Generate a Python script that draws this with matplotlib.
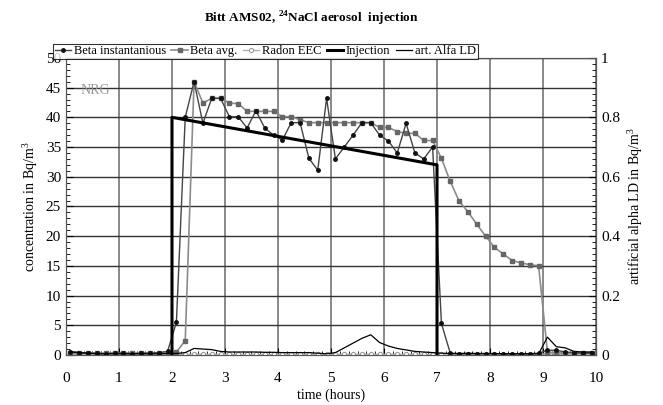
import numpy as np
import matplotlib
matplotlib.use("Agg")
import matplotlib.pyplot as plt
from matplotlib.ticker import MultipleLocator

plt.rcParams['font.family'] = ['Liberation Serif', 'DejaVu Serif']
plt.rcParams['mathtext.fontset'] = 'custom'
plt.rcParams['mathtext.rm'] = 'Liberation Serif'
plt.rcParams['mathtext.bf'] = 'Liberation Serif:bold'

# time of each 10-minute sample, in minutes
minutes = [5, 15, 25, 35, 45, 55, 65, 75, 85, 95,
           105, 115, 125, 135, 145, 155, 165, 175, 185, 195,
           205, 215, 225, 235, 245, 255, 265, 275, 285, 295,
           305, 315, 325, 335, 345, 355, 365, 375, 385, 395,
           405, 415, 425, 435, 445, 455, 465, 475, 485, 495,
           505, 515, 525, 535, 545, 555, 565, 575, 585, 595]

beta_inst = [0.5, 0.4, 0.3, 0.3, 0.2, 0.3, 0.3, 0.2, 0.3, 0.3,
             0.4, 0.6, 5.5, 40.0, 46.0, 39.0, 43.2, 43.2, 40.1, 40.1,
             38.2, 41.1, 38.2, 37.0, 36.2, 39.1, 39.1, 33.1, 31.1, 43.2,
             33.0, 35.0, 37.0, 39.1, 39.1, 37.0, 36.0, 34.0, 39.0, 34.0,
             33.0, 35.0, 5.3, 0.3, 0.2, 0.2, 0.2, 0.2, 0.2, 0.2,
             0.2, 0.2, 0.2, 0.3, 0.8, 0.8, 0.5, 0.4, 0.3, 0.3]

beta_avg = [0.3, 0.3, 0.3, 0.3, 0.3, 0.3, 0.3, 0.3, 0.3, 0.3,
            0.3, 0.3, 0.5, 2.4, 46.0, 42.4, 43.2, 43.2, 42.4, 42.3,
            41.0, 41.0, 41.0, 41.0, 40.1, 40.1, 39.6, 39.1, 39.1, 39.1,
            39.1, 39.1, 39.1, 39.1, 39.1, 38.3, 38.3, 37.6, 37.3, 37.3,
            36.1, 36.1, 33.1, 29.2, 25.9, 24.1, 22.0, 20.0, 18.1, 17.0,
            15.9, 15.5, 15.2, 15.0, 0.5, 0.4, 0.3, 0.3, 0.3, 0.3]

radon_eec = [0.2, 0.1, 0.1, 0.1, 0.1, 0.1, 0.1, 0.1, 0.1, 0.1,
             0.1, 0.1, 0.1, 0.1, 0.1, 0.1, 0.1, 0.1, 0.1, 0.1,
             0.1, 0.1, 0.1, 0.1, 0.1, 0.1, 0.1, 0.1, 0.1, 0.1,
             0.1, 0.1, 0.1, 0.1, 0.1, 0.1, 0.1, 0.1, 0.1, 0.1,
             0.1, 0.1, 0.1, 0.1, 0.1, 0.1, 0.1, 0.1, 0.1, 0.1,
             0.1, 0.1, 0.1, 0.1, 0.2, 0.2, 0.1, 0.1, 0.1, 0.1]

# artificial alpha LD (right axis)
alfa_ld = [0.011, 0.008, 0.006, 0.004, 0.004, 0.004, 0.004, 0.004, 0.004, 0.004,
           0.004, 0.005, 0.005, 0.008, 0.022, 0.020, 0.018, 0.012, 0.010, 0.010,
           0.010, 0.010, 0.009, 0.009, 0.008, 0.008, 0.008, 0.008, 0.006, 0.004,
           0.008, 0.024, 0.040, 0.056, 0.068, 0.042, 0.030, 0.022, 0.017, 0.012,
           0.010, 0.008, 0.006, 0.005, 0.005, 0.006, 0.005, 0.005, 0.005, 0.004,
           0.004, 0.004, 0.004, 0.004, 0.060, 0.028, 0.024, 0.012, 0.010, 0.010]

# injection period
inj_time = [2.0, 2.0, 7.0, 7.0]
inj_val = [0.0, 40.0, 32.0, 0.0]

left_ticks = [0, 5, 10, 15, 20, 25, 30, 35, 40, 45, 50]
right_ticks = [0, 0.2, 0.4, 0.6, 0.8, 1]
right_labels = ['0', '0.2', '0.4', '0.6', '0.8', '1']

hours = np.array(minutes) / 60.0

fig = plt.figure(figsize=(6.63, 4.05), dpi=100)
ax = fig.add_axes([0.0995, 0.1235, 0.7995, 0.7335])
ax2 = ax.twinx()

ax.plot(hours, radon_eec, color='#b0b0b0', lw=1, marker='o', ms=3,
        mfc='white', mec='#999999', mew=0.8, label='Radon EEC', zorder=3)
ax.plot(hours, beta_avg, color='#8c8c8c', lw=1.2, marker='s', ms=3,
        mfc='#666666', mec='#666666', label='Beta avg.', zorder=4)
ax.plot(hours, beta_inst, color='#444444', lw=1, marker='o', ms=2.5,
        mfc='#111111', mec='#111111', label='Beta instantanious', zorder=5)
ax.plot(inj_time, inj_val, color='black', lw=2.2, label='Injection', zorder=6)
ax2.plot(hours, alfa_ld, color='black', lw=0.9, label='art. Alfa LD')

ax.set_xlim(0, 10)
ax.set_ylim(0, 50)
ax2.set_ylim(0, 1)
ax.xaxis.set_major_locator(MultipleLocator(1))
ax.xaxis.set_minor_locator(MultipleLocator(1 / 6))
ax.set_yticks(left_ticks)
ax.set_yticklabels([str(v) for v in left_ticks])
ax.yaxis.set_minor_locator(MultipleLocator(1))
ax2.set_yticks(right_ticks)
ax2.set_yticklabels(right_labels)
ax2.yaxis.set_minor_locator(MultipleLocator(0.02))

ax.grid(True, axis='y', color='#333333', lw=1)
ax.grid(True, axis='x', color='#808080', lw=1.3)
ax.set_axisbelow(True)
for a in (ax, ax2):
    a.tick_params(which='both', direction='in', labelsize=11)
    a.tick_params(which='major', length=5)
    a.tick_params(which='minor', length=3)
    for s in a.spines.values():
        s.set_linewidth(0.8)
        s.set_color('#555555')
ax.tick_params(axis='x', pad=12)

ax.set_xlabel('time (hours)', fontsize=10, labelpad=3)
ax.set_ylabel('concentration in Bq/m$^3$', fontsize=10)
ax2.set_ylabel('artificial alpha LD in Bq/m$^3$', fontsize=10)

fig.suptitle(r'Bitt AMS02, $^{\mathbf{24}}$NaCl aerosol  injection', fontsize=9.5,
             fontweight='bold', y=0.975, x=0.47)

ax.text(0.27, 44.5, 'NRG', color='#999999', fontsize=10, ha='left', va='center')

h1, l1 = ax.get_legend_handles_labels()
h2, l2 = ax2.get_legend_handles_labels()
order = [2, 1, 0, 3]
handles = [h1[i] for i in order] + h2
labels = [l1[i] for i in order] + l2
leg = fig.legend(handles, labels, loc='center', bbox_to_anchor=(0.4, 0.873),
                 ncol=5, fontsize=9, frameon=True, fancybox=False,
                 edgecolor='black', handlelength=1.3, handletextpad=0.2,
                 columnspacing=0.45, borderpad=0.15, borderaxespad=0)
leg.get_frame().set_linewidth(0.8)
leg.set_zorder(10)

fig.savefig('out.png', dpi=100)
